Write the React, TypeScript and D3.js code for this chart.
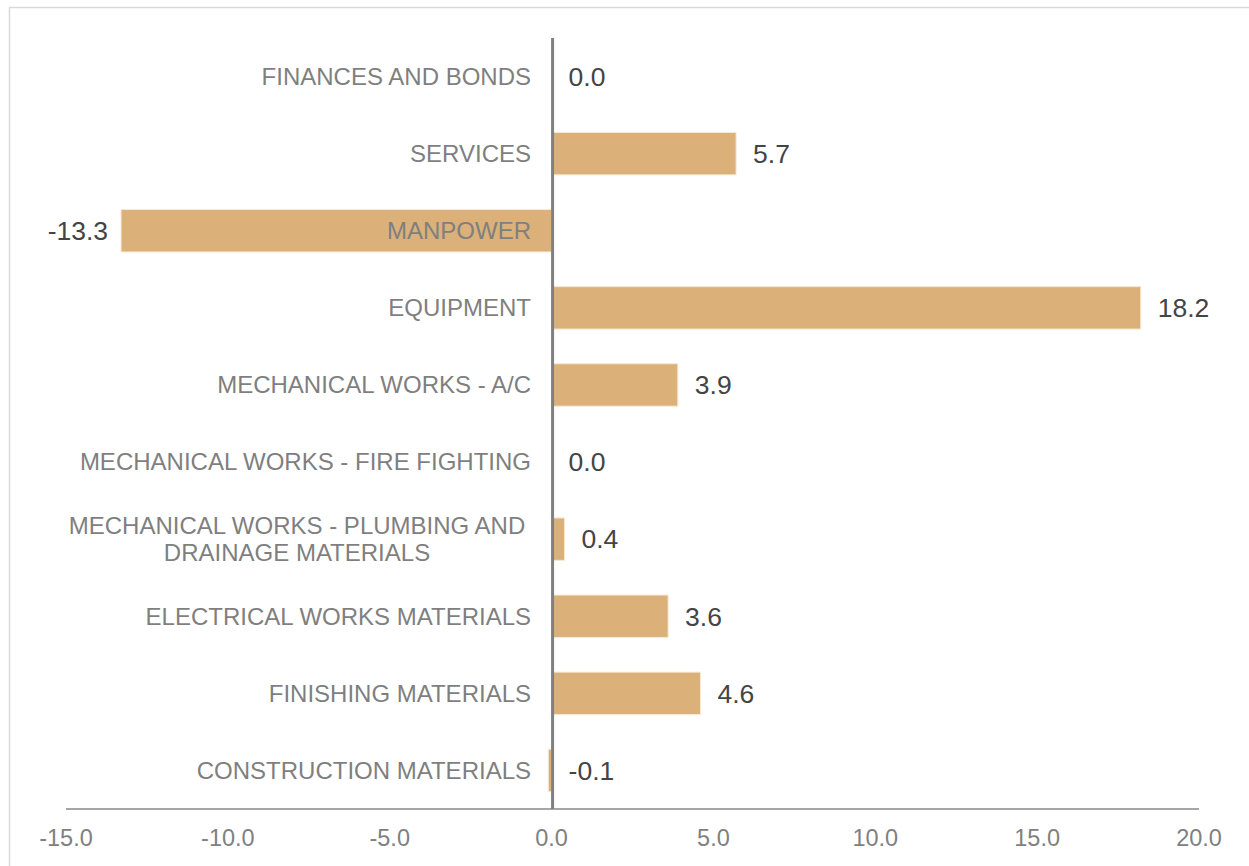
import React from "react";
import * as d3 from "d3";

const categories: string[][] = [
  ["FINANCES AND BONDS"],
  ["SERVICES"],
  ["MANPOWER"],
  ["EQUIPMENT"],
  ["MECHANICAL WORKS - A/C"],
  ["MECHANICAL WORKS - FIRE FIGHTING"],
  ["MECHANICAL WORKS - PLUMBING AND", "DRAINAGE MATERIALS"],
  ["ELECTRICAL WORKS MATERIALS"],
  ["FINISHING MATERIALS"],
  ["CONSTRUCTION MATERIALS"],
];
const values: number[] = [0.0, 5.7, -13.3, 18.2, 3.9, 0.0, 0.4, 3.6, 4.6, -0.1];
const xTicks: number[] = [-15, -10, -5, 0, 5, 10, 15, 20];

const W = 1249;
const H = 866;
const FONT = "'Liberation Sans', Arial, sans-serif";

export default function App() {
  const x = d3.scaleLinear().domain([-15, 20]).range([66, 1199]);
  const y = d3
    .scaleBand<number>()
    .domain(d3.range(categories.length))
    .range([38, 809])
    .paddingInner(0.45)
    .paddingOuter(0.225);
  const x0 = x(0);
  const axisY = 809;
  const locale = d3.formatLocale({
    decimal: ".",
    thousands: ",",
    grouping: [3],
    currency: ["", ""],
    minus: "-",
  });
  const fmt = locale.format(".1f");

  return (
    <svg
      width={W}
      height={H}
      style={{ position: "absolute", left: 0, top: 0, background: "#fff" }}
      fontFamily={FONT}
    >
      <rect x={9.5} y={7.5} width={W + 20} height={H + 20} fill="#fff" stroke="#d9d9d9" strokeWidth={1.5} />
      {values.map((v, i) => {
        const yb = y(i)!;
        const x1 = Math.min(x(v), x0);
        const x2 = Math.max(x(v), x0);
        return (
          <rect
            key={"b" + i}
            x={x1}
            y={yb}
            width={Math.max(0, x2 - x1)}
            height={y.bandwidth()}
            fill="#dbb079"
            stroke="#f6e8d4"
            strokeWidth={1}
          />
        );
      })}
      {categories.map((lines, i) => {
        const cy = y(i)! + y.bandwidth() / 2;
        if (lines.length === 1) {
          return (
            <text
              key={"c" + i}
              x={531}
              y={cy}
              dy="0.35em"
              textAnchor="end"
              fontSize={24}
              fill="#7f7f7f"
            >
              {lines[0]}
            </text>
          );
        }
        const lh = 27;
        const cx = 297;
        return (
          <text key={"c" + i} x={cx} textAnchor="middle" fontSize={24} fill="#7f7f7f">
            {lines.map((l, j) => (
              <tspan key={j} x={cx} y={cy + (j - (lines.length - 1) / 2) * lh} dy="0.35em">
                {l}
              </tspan>
            ))}
          </text>
        );
      })}
      {values.map((v, i) => {
        const cy = y(i)! + y.bandwidth() / 2;
        const neg = v < -1;
        const lx = neg ? x(v) - 13 : Math.max(x(v), x0) + 17;
        return (
          <text
            key={"v" + i}
            x={lx}
            y={cy}
            dy="0.35em"
            textAnchor={neg ? "end" : "start"}
            fontSize={26.5}
            fill="#444444"
          >
            {fmt(v)}
          </text>
        );
      })}
      <line x1={x(-15)} x2={x(20)} y1={axisY} y2={axisY} stroke="#a6a6a6" strokeWidth={2} />
      <line x1={x0 + 1} x2={x0 + 1} y1={38} y2={axisY} stroke="#808080" strokeWidth={3} />
      {xTicks.map((t) => (
        <text
          key={"t" + t}
          x={x(t)}
          y={838}
          dy="0.35em"
          textAnchor="middle"
          fontSize={23.5}
          fill="#808080"
        >
          {fmt(t)}
        </text>
      ))}
    </svg>
  );
}
